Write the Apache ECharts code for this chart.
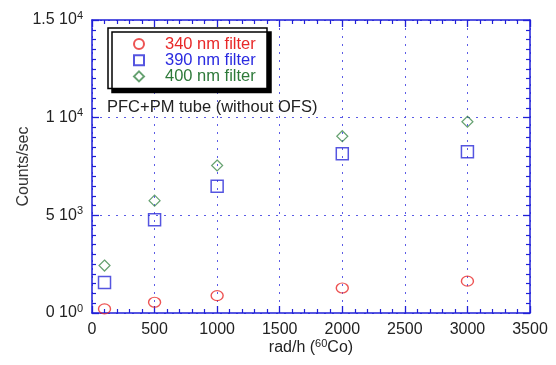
<!DOCTYPE html>
<html>
<head>
<meta charset="utf-8">
<script src="https://cdn.jsdelivr.net/npm/echarts@6/dist/echarts.min.js"></script>
<style>html,body{margin:0;padding:0;background:#fff;}#c{width:556px;height:365px;}</style>
</head>
<body>
<div id="c"></div>
<script>
// ---- data ----
const xValues = [100, 500, 1000, 2000, 3000];
const s340 = [210, 550, 890, 1280, 1630];
const s390 = [1560, 4780, 6490, 8150, 8250];
const s400 = [2430, 5750, 7550, 9050, 9790];
const seriesNames = ['340 nm filter', '390 nm filter', '400 nm filter'];
const yTickMantissa = {0: '0', 5000: '5', 10000: '1', 15000: '1.5'};
const yTickExponent = {0: '0', 5000: '3', 10000: '4', 15000: '4'};
const annotation = 'PFC+PM tube (without OFS)';

const FONT = '"Liberation Sans", Arial, sans-serif';
const AX = '#1f1fd8';
const colors = ['#e82828', '#2a2ad8', '#3f8a4c'];
const textColors = ['#e82828', '#2a2ae0', '#2e7a3a'];
const legendIcons = ['circle', 'rect', 'diamond'];

function pairs(ys) { return xValues.map((x, i) => [x, ys[i]]); }

const chart = echarts.init(document.getElementById('c'), null, {renderer: 'canvas'});
const gridLine = {show: true, lineStyle: {color: '#5b5be6', type: [2, 6], width: 1}};
const baseAxis = {
  axisLine: {show: true, onZero: false, lineStyle: {color: AX, width: 1.5}},
  axisTick: {show: true, inside: true, length: 7, lineStyle: {color: AX, width: 1.3}},
  minorTick: {show: true, length: 4, lineStyle: {color: AX, width: 1.2}}
};
chart.setOption({
  animation: false,
  backgroundColor: '#fff',
  grid: {left: 92, right: 26, top: 20, bottom: 52},
  xAxis: [
    Object.assign({}, baseAxis, {
      type: 'value', min: 0, max: 3500, interval: 500, position: 'bottom',
      minorTick: Object.assign({}, baseAxis.minorTick, {splitNumber: 5}),
      splitLine: gridLine,
      axisLabel: {color: '#222', fontSize: 16, fontFamily: FONT, margin: 9, formatter: v => String(v)},
      name: '{a|rad/h (}{s|60}{a|Co)}', nameLocation: 'middle', nameGap: 25, nameMoveOverlap: false,
      nameTextStyle: {rich: {
        a: {fontSize: 16, fontFamily: FONT, color: '#222'},
        s: {fontSize: 11, fontFamily: FONT, color: '#222', padding: [0, 0, 8, 0]}
      }}
    }),
    Object.assign({}, baseAxis, {
      type: 'value', min: 0, max: 3500, interval: 500, position: 'top',
      minorTick: Object.assign({}, baseAxis.minorTick, {splitNumber: 5}),
      splitLine: {show: false}, axisLabel: {show: false}
    })
  ],
  yAxis: [
    Object.assign({}, baseAxis, {
      type: 'value', min: 0, max: 15000, interval: 5000, position: 'left',
      minorTick: Object.assign({}, baseAxis.minorTick, {splitNumber: 10}),
      splitLine: gridLine,
      axisLabel: {
        margin: 9,
        formatter: v => `{m|${yTickMantissa[v]} 10}{e|${yTickExponent[v]}}`,
        rich: {
          m: {fontSize: 16, fontFamily: FONT, color: '#222'},
          e: {fontSize: 11, fontFamily: FONT, color: '#222', padding: [0, 0, 9, 0]}
        }
      },
      name: 'Counts/sec', nameLocation: 'middle', nameGap: 60, nameRotate: 90, nameMoveOverlap: false,
      nameTextStyle: {fontSize: 16, fontFamily: FONT, color: '#333'}
    }),
    Object.assign({}, baseAxis, {
      type: 'value', min: 0, max: 15000, interval: 5000, position: 'right',
      minorTick: Object.assign({}, baseAxis.minorTick, {splitNumber: 10}),
      splitLine: {show: false}, axisLabel: {show: false}
    })
  ],
  legend: {
    orient: 'vertical', left: 108, top: 28,
    padding: [7.5, 8, 3.5, 25], itemGap: -0.8, itemWidth: 10, itemHeight: 10,
    backgroundColor: '#fff', borderColor: '#000', borderWidth: 1.5,
    shadowColor: '#000', shadowBlur: 0, shadowOffsetX: 4, shadowOffsetY: 4,
    textStyle: {fontSize: 16.5, fontFamily: FONT, width: 94, lineHeight: 13.5, padding: [0, 0, 0, 16]},
    data: seriesNames.map((n, i) => ({name: n, icon: legendIcons[i], textStyle: {color: textColors[i]}}))
  },
  graphic: [{
    type: 'text', left: 107, top: 99, z: 10,
    style: {text: annotation, fontSize: 16.5, fontFamily: FONT, fill: '#222'}
  }],
  series: [
    {name: seriesNames[0], type: 'scatter', data: pairs(s340), symbol: 'circle', symbolSize: [12, 10],
     itemStyle: {color: 'rgba(0,0,0,0)', borderColor: colors[0], borderWidth: 1.3}, z: 5},
    {name: seriesNames[1], type: 'scatter', data: pairs(s390), symbol: 'rect', symbolSize: [12, 12],
     itemStyle: {color: 'rgba(0,0,0,0)', borderColor: colors[1], borderWidth: 1.5}, z: 5},
    {name: seriesNames[2], type: 'scatter', data: pairs(s400), symbol: 'diamond', symbolSize: [11, 11],
     itemStyle: {color: 'rgba(0,0,0,0)', borderColor: colors[2], borderWidth: 1.2}, z: 5}
  ]
});
</script>
</body>
</html>
